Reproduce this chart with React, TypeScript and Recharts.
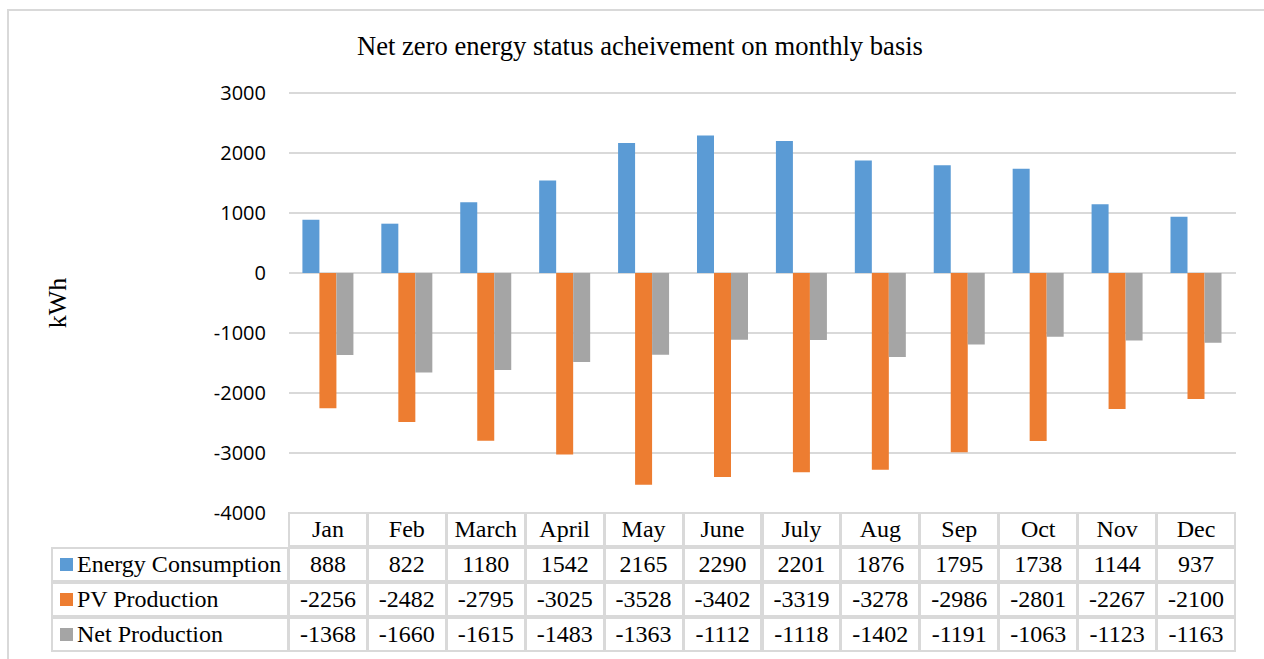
import React from "react";
import { BarChart, Bar, XAxis, YAxis, CartesianGrid } from "recharts";

const months = ["Jan", "Feb", "March", "April", "May", "June", "July", "Aug", "Sep", "Oct", "Nov", "Dec"];
const energyConsumption = [888, 822, 1180, 1542, 2165, 2290, 2201, 1876, 1795, 1738, 1144, 937];
const pvProduction = [-2256, -2482, -2795, -3025, -3528, -3402, -3319, -3278, -2986, -2801, -2267, -2100];
const netProduction = [-1368, -1660, -1615, -1483, -1363, -1112, -1118, -1402, -1191, -1063, -1123, -1163];
const yTicks = [-4000, -3000, -2000, -1000, 0, 1000, 2000, 3000];

const series = [
    { key: "consumption", name: "Energy Consumption", color: "#5b9bd5", values: energyConsumption },
    { key: "pv", name: "PV Production", color: "#ed7d31", values: pvProduction },
    { key: "net", name: "Net Production", color: "#a5a5a5", values: netProduction },
];

const data = months.map((m, i) => ({
    month: m,
    consumption: energyConsumption[i],
    pv: pvProduction[i],
    net: netProduction[i],
}));

const W = 1264;
const H = 659;
const PLOT_LEFT = 289;
const PLOT_RIGHT = 1236;
const PLOT_TOP = 93;
const PLOT_BOTTOM = 513;
const ROW_H = 35;
const LEGEND_LEFT = 52;
const GRID = "#d9d9d9";
const SERIF = '"Liberation Serif", "Times New Roman", serif';

export default function App() {
    const colW = (PLOT_RIGHT - PLOT_LEFT) / months.length;
    const cell = (left: number, top: number, width: number): React.CSSProperties => ({
        position: "absolute",
        left,
        top,
        width,
        height: ROW_H,
        boxSizing: "border-box",
        border: `2px solid ${GRID}`,
        marginLeft: -1,
        marginTop: -1,
        fontFamily: SERIF,
        fontSize: 24,
        color: "#000",
        display: "flex",
        alignItems: "center",
        justifyContent: "center",
        whiteSpace: "nowrap",
    });

    return (
        <div style={{ position: "absolute", left: 0, top: 0, width: W, height: H, background: "#fff", overflow: "hidden" }}>
            <div
                style={{
                    position: "absolute",
                    left: 7,
                    top: 9,
                    width: W,
                    height: H,
                    border: `2px solid ${GRID}`,
                    boxSizing: "border-box",
                }}
            />
            <div
                style={{
                    position: "absolute",
                    left: 0,
                    width: W,
                    top: 31,
                    textAlign: "center",
                    fontFamily: SERIF,
                    fontSize: 26.6,
                    lineHeight: "30px",
                    color: "#000",
                    paddingLeft: 8,
                }}
            >
                Net zero energy status acheivement on monthly basis
            </div>
            <div
                style={{
                    position: "absolute",
                    left: 58,
                    top: 303,
                    transform: "translate(-50%, -50%) rotate(-90deg)",
                    fontFamily: SERIF,
                    fontSize: 26,
                    color: "#000",
                }}
            >
                kWh
            </div>
            <div style={{ position: "absolute", left: 0, top: 0 }}>
                <BarChart
                    width={W}
                    height={H}
                    data={data}
                    margin={{ top: PLOT_TOP, right: W - PLOT_RIGHT, bottom: H - PLOT_BOTTOM, left: PLOT_LEFT - 80 }}
                    barGap={0}
                    barCategoryGap="17%"
                >
                    <CartesianGrid vertical={false} stroke={GRID} strokeWidth={2} />
                    <XAxis dataKey="month" hide />
                    <YAxis
                        width={80}
                        domain={[-4000, 3000]}
                        ticks={yTicks}
                        interval={0}
                        axisLine={false}
                        tickLine={false}
                        tickSize={0}
                        tickMargin={23}
                        tick={{ fill: "#000", fontSize: 20, fontFamily: '"Open Sans", sans-serif' }}
                    />
                    {series.map((s) => (
                        <Bar key={s.key} dataKey={s.key} name={s.name} fill={s.color} isAnimationActive={false} />
                    ))}
                </BarChart>
            </div>
            {months.map((m, i) => (
                <div key={m} style={cell(PLOT_LEFT + i * colW, PLOT_BOTTOM, colW + 1)}>
                    {m}
                </div>
            ))}
            {series.map((s, r) => (
                <React.Fragment key={s.key}>
                    <div
                        style={{
                            ...cell(LEGEND_LEFT, PLOT_BOTTOM + (r + 1) * ROW_H, PLOT_LEFT - LEGEND_LEFT + 1),
                            justifyContent: "flex-start",
                            paddingLeft: 7,
                        }}
                    >
                        <span style={{ display: "inline-block", width: 13, height: 13, background: s.color, marginRight: 4, flexShrink: 0 }} />
                        {s.name}
                    </div>
                    {s.values.map((v, i) => (
                        <div key={i} style={cell(PLOT_LEFT + i * colW, PLOT_BOTTOM + (r + 1) * ROW_H, colW + 1)}>
                            {v}
                        </div>
                    ))}
                </React.Fragment>
            ))}
        </div>
    );
}
